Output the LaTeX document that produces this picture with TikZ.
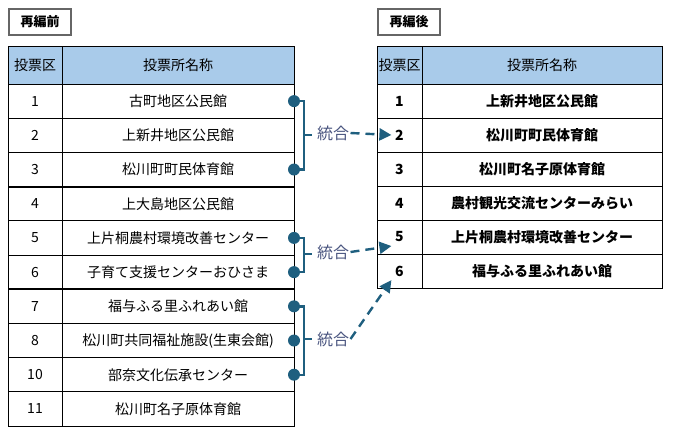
\documentclass[tikz,border=0pt]{standalone}
\usepackage{fontspec}
\setmainfont{Noto Sans CJK JP}
\usetikzlibrary{positioning, arrows.meta}
\definecolor{hdrblue}{HTML}{A9CBEA}
\definecolor{linkblue}{HTML}{1F5F7F}
\definecolor{labgray}{HTML}{4A5580}
\tikzset{
  title/.style={draw=gray!80!black, line width=2pt, minimum width=62pt, minimum height=26pt, inner sep=0pt, font=\fontsize{13}{15}\selectfont\bfseries, anchor=north west},
  cell/.style={font=\fontsize{14}{16}\selectfont},
  bcell/.style={font=\fontsize{14}{16}\selectfont\bfseries},
  dot/.style={circle, fill=linkblue, inner sep=0pt, minimum size=12pt},
  link/.style={draw=linkblue, line width=2.4pt},
  merge/.style={link, dash pattern=on 9pt off 6pt, -{Triangle[length=12pt,width=12pt]}},
  mlabel/.style={text=labgray, font=\fontsize{16}{18}\selectfont, fill=white, inner sep=1pt}
}
\begin{document}
\begin{tikzpicture}[x=1pt, y=-1pt, line width=1pt]
    \useasboundingbox (0,0) rectangle (674,437);
    % titles
    \node[title] (before) at (8,8) {再編前};
    \node[title] (after) at (377,8) {再編後};

    % left table
    \fill[hdrblue] (8,46) rectangle (294,84);
    \foreach \y in {84,118.2,...,426} \draw (8,\y) -- (294,\y);
    \draw (8,46) rectangle (294,426);
    \draw (62,46) -- (62,426);
    \draw[line width=2pt] (8,186.6) -- (294,186.6);
    \draw[line width=2pt] (8,289.2) -- (294,289.2);
    \node[cell] (lh1) at (35,65) {投票区};
    \node[cell] (lh2) at (178,65) {投票所名称};
    \foreach \n/\name [count=\i] in {1/古町地区公民館, 2/上新井地区公民館, 3/松川町町民体育館, 4/上大島地区公民館, 5/上片桐農村環境改善センター, 6/子育て支援センターおひさま, 7/福与ふる里ふれあい館, 8/松川町共同福祉施設(生東会館), 10/部奈文化伝承センター, 11/松川町名子原体育館} {
      \node[cell] (ln\i) at (35,{84+34.2*(\i-0.5)}) {\n};
      \node[cell] (lr\i) at (178,{84+34.2*(\i-0.5)}) {\name};
    }

    % right table
    \fill[hdrblue] (377,46) rectangle (662,84);
    \foreach \y in {84,118,...,288} \draw (377,\y) -- (662,\y);
    \draw (377,46) rectangle (662,288);
    \draw (422,46) -- (422,288);
    \node[cell] (rh1) at (399.5,65) {投票区};
    \node[cell] (rh2) at (542,65) {投票所名称};
    \foreach \name [count=\i] in {上新井地区公民館, 松川町町民体育館, 松川町名子原体育館, 農村観光交流センターみらい, 上片桐農村環境改善センター, 福与ふる里ふれあい館} {
      \node[bcell] (rn\i) at (399.5,{84+34*(\i-0.5)}) {\i};
      \node[bcell] (rr\i) at (542,{84+34*(\i-0.5)}) {\name};
    }

    % merge brackets
    \foreach \i in {1,3,5,6,7,8,9} \node[dot] (d\i) at (294,{84+34.2*(\i-0.5)}) {};
    \draw[link] (d1.center) -| (304,0 |- d3) -- (d3.center);
    \draw[link] (d5.center) -| (304,0 |- d6) -- (d6.center);
    \draw[link] (d7.center) -| (304,0 |- d9) -- (d9.center);
    \draw[link] (304,135) -- (312,135);
    \draw[link] (304,254) -- (312,254);
    \draw[link] (304,339) -- (312,339);
    \node[mlabel] (m1) at (333,133) {統合};
    \node[mlabel] (m2) at (333,252) {統合};
    \node[mlabel] (m3) at (333,339) {統合};
    \draw[merge] (m1.east) -- (rn2.west);
    \draw[merge] (m2.east) -- (rn5.south west);
    \draw[merge] (m3.east) -- (rn6.south west);
\end{tikzpicture}
\end{document}
